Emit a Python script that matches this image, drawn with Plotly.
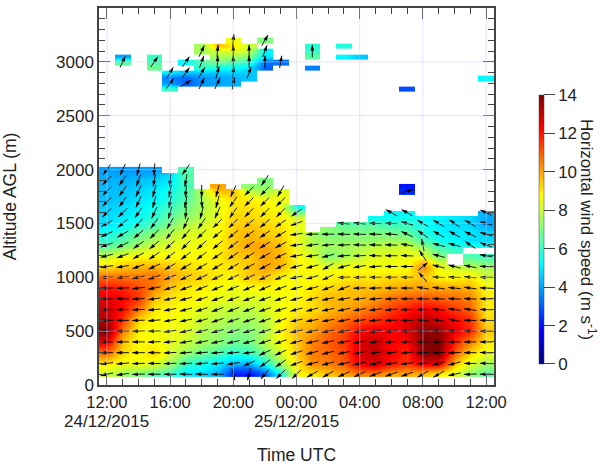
import math
import plotly.graph_objects as go

_ = None
hours = list(range(25))
x_tick_vals = [0, 4, 8, 12, 16, 20, 24]
x_tick_text = ["12:00", "16:00", "20:00", "00:00", "04:00", "08:00", "12:00"]
date_labels = [(0, "24/12/2015"), (12, "25/12/2015")]

low_alt = [2000,1950,1900,1850,1800,1750,1700,1650,1600,1550,1500,1450,1400,1350,1300,1250,1200,1150,1100,1050,
           1000,900,800,700,600,500,400,300,200,150,100]
low_speed = [
[4.0,3.8,3.9,3.9,_,6.3,_,_,_,_,_,_,_,_,_,_,_,_,_,_,_,_,_,_,_],
[4.1,4.0,4.1,4.2,4.8,6.5,_,_,_,_,_,_,_,_,_,_,_,_,_,_,_,_,_,_,_],
[4.2,4.2,4.4,4.6,5.0,6.4,_,_,_,_,7.0,_,_,_,_,_,_,_,_,_,_,_,_,_,_],
[4.3,4.3,4.5,4.8,5.2,6.2,_,10.0,_,7.2,7.2,_,_,_,_,_,_,_,_,2.0,_,_,_,_,_],
[4.4,4.4,4.7,5.0,5.5,6.2,7.9,9.7,9.6,7.8,7.5,8.3,_,_,_,_,_,_,_,2.3,_,_,_,_,_],
[4.4,4.5,4.8,5.1,5.6,6.3,7.7,8.8,9.4,8.7,8.3,8.6,_,_,_,_,_,_,_,_,_,_,_,_,_],
[4.5,4.6,5.0,5.3,5.8,6.5,7.6,8.5,9.0,9.0,8.8,8.5,_,_,_,_,_,_,_,_,_,_,_,_,_],
[4.6,4.8,5.1,5.5,6.1,6.8,7.6,8.4,9.1,9.1,8.9,8.6,5.3,_,_,_,_,_,_,_,_,_,_,_,_],
[4.7,4.9,5.2,5.7,6.4,7.0,7.7,8.5,9.2,9.2,9.0,8.8,7.0,_,_,_,_,_,5.3,5.2,_,_,_,_,4.2],
[4.8,5.0,5.4,5.9,6.7,7.3,7.9,8.5,9.3,9.3,9.1,8.9,8.2,_,_,_,_,5.4,5.4,5.5,5.3,5.2,5.0,4.8,4.1],
[4.9,5.2,5.7,6.2,7.0,7.7,8.1,8.6,9.4,9.5,9.3,9.0,8.5,_,_,6.5,6.5,6.3,6.0,6.0,5.5,5.0,4.8,4.7,4.0],
[5.2,5.6,6.2,6.7,7.4,8.0,8.2,8.7,9.4,9.6,9.4,9.1,8.5,_,7.2,6.8,6.8,6.7,6.5,6.3,5.6,5.1,4.9,4.8,4.4],
[5.5,6.0,6.7,7.2,7.8,8.2,8.4,8.7,9.5,9.7,9.5,9.2,8.5,7.5,7.0,7.0,7.0,7.0,7.0,6.7,5.8,5.2,5.0,5.0,4.7],
[5.9,6.4,7.1,7.6,8.1,8.4,8.5,8.8,9.5,9.8,9.7,9.4,8.6,7.6,7.2,7.2,7.3,7.3,7.4,7.3,6.3,5.5,5.2,4.8,4.7],
[6.3,6.8,7.5,8.0,8.4,8.5,8.6,8.8,9.5,10,10,9.5,8.6,7.7,7.5,7.5,7.5,7.8,7.8,8.0,7.0,6.0,5.5,5.5,5.3],
[7.1,7.6,8.1,8.4,8.6,8.6,8.7,8.9,9.5,9.8,10,9.6,8.6,8.0,7.3,7.5,7.8,8.1,8.1,8.3,7.8,6.5,6.0,_,_],
[8.0,8.5,8.7,8.7,8.7,8.7,8.7,9.0,9.5,9.5,10,9.7,8.7,8.3,7.0,7.5,8.0,8.3,8.4,8.5,8.3,7.0,_,6.3,6.0],
[8.6,9.0,9.2,9.3,9.1,9.0,8.9,9.0,9.3,9.5,10,9.7,8.8,8.5,7.7,8.0,8.3,8.5,8.5,8.6,9.5,7.8,_,7.0,6.7],
[9.2,9.5,9.7,9.8,9.5,9.2,9.0,9.0,9.2,9.5,10,9.7,8.8,8.7,8.3,8.6,8.6,8.6,8.6,8.6,10.5,8.5,8.0,7.8,7.5],
[10,10.1,10.2,10.3,9.8,9.4,9.2,9.0,9.0,9.5,9.8,9.2,8.7,8.7,8.6,8.8,8.8,8.8,8.9,8.9,10,8.7,8.4,8.4,7.9],
[10.8,10.7,10.7,10.7,10,9.5,9.3,9.0,8.8,9.5,9.6,8.7,8.7,8.7,8.8,9.0,9.0,9.0,9.2,9.2,9.6,8.8,8.7,9.0,8.2],
[12,11.8,11.2,10.5,9.5,9.0,8.9,8.7,8.5,8.7,8.8,8.7,8.7,9.0,9.2,9.5,9.6,9.6,9.8,10,10,10,10,9.8,8.8],
[12.6,12.2,11.5,9.5,9.0,8.9,8.7,8.5,8.4,8.3,8.3,8.6,8.8,9.2,9.7,9.7,9.8,10.2,10.8,11,11.3,11,10.8,10.5,9.0],
[13,12,10.5,9.0,8.9,8.6,8.3,8.0,7.9,7.8,8.3,8.6,8.9,9.2,9.7,10,10.5,10.9,11.5,12,12.5,12.2,11.5,11,9.0],
[13.2,11.5,9.2,8.8,8.7,8.4,8.1,7.8,7.6,7.5,7.8,8.7,9.3,9.7,10.2,10.7,11.3,11.6,12,12.5,13.3,12.8,12.2,11.6,9.2],
[14,10.5,8.8,8.6,8.6,8.4,7.7,7.4,7.1,7.1,7.6,8.8,9.7,10,10.8,11.2,12.3,12.5,12.3,12.7,13.8,13.6,12.4,11.7,9.5],
[12.5,9.5,8.8,8.7,8.5,8.0,7.5,7.2,6.8,6.8,7.8,8.7,9.5,10.5,11,11.5,12.7,13,12.2,12.2,13.9,14,11.8,10.5,9.0],
[10.8,9.2,8.8,9.3,8.3,7.3,6.8,6.3,5.8,6.0,7.0,8.2,9.5,10.5,10.8,11.3,12.8,13,12.3,11.8,13.9,13.9,11,9.3,8.5],
[9.0,8.5,8.5,8.3,7.5,6.0,5.5,5.0,4.3,4.2,5.5,7.5,9.0,10.3,10.5,11,12.5,12.8,12,11.5,12.5,12.5,9.5,8.3,7.5],
[8.5,8.0,7.8,7.5,6.8,5.5,5.2,4.6,3.0,3.0,4.2,6.5,8.9,9.7,10,10.5,11.5,11.7,11,10.7,11,10.7,8.9,7.8,7.0],
[8.0,7.5,7.0,6.5,6.0,5.0,4.8,4.2,2.2,2.0,3.0,5.5,8.8,9.0,9.5,10,10.5,10.5,10,10,9.7,9.0,8.3,7.3,6.5],
]

high_alt = [3200,3150,3100,3050,3000,2950,2900,2850,2800,2750]
high_speed = [
[_,_,_,_,_,_,_,_,8.5,_,7.0,_,_,_,_,_,_,_,_,_,_,_,_,_,_],
[_,_,_,_,_,_,7.5,9.7,9.0,8.0,_,_,_,5.8,_,5.7,_,_,_,_,_,_,_,_,_],
[_,_,_,_,_,_,7.5,8.2,8.5,8.0,5.2,_,_,6.0,_,_,_,_,_,_,_,_,_,_,_],
[_,4.0,_,6.0,_,_,_,7.5,7.5,7.0,5.0,_,_,6.5,_,5.2,4.5,_,_,_,_,_,_,_,_],
[_,6.5,_,6.3,_,5.2,6.5,7.0,6.5,6.0,3.5,3.3,_,_,_,_,_,_,_,_,_,_,_,_,_],
[_,_,_,6.8,_,_,6.0,5.5,5.3,5.0,3.0,_,_,3.5,_,_,_,_,_,_,_,_,_,_,_],
[_,_,_,_,5.0,4.5,4.5,4.5,4.7,4.5,_,_,_,_,_,_,_,_,_,_,_,_,_,_,_],
[_,_,_,_,3.5,3.2,3.8,4.0,4.2,4.5,_,_,_,_,_,_,_,_,_,_,_,_,_,_,5.2],
[_,_,_,_,4.0,3.0,3.8,4.0,4.2,_,_,_,_,_,_,_,_,_,_,_,_,_,_,_,_],
[_,_,_,_,6.0,_,_,_,_,_,_,_,_,_,_,_,_,_,_,2.8,_,_,_,_,_],
]

# Bearing the wind blows towards, degrees clockwise from north
arrow_alt = [3200,3100,3000,2900,2800,2000,1900,1800,1700,1600,1500,1400,1300,1200,1100,1000,900,800,700,600,500,400,300,200,100]
bearing = [
[_,_,_,_,_,_,_,_,5,_,30,_,_,_,_,_,_,_,_,_,_,_,_,_,_],
[_,_,_,_,_,_,25,5,0,0,20,_,_,0,_,_,_,_,_,_,_,_,_,_,_],
[_,25,_,35,_,35,20,3,0,0,0,10,_,_,_,_,_,_,_,_,_,_,_,_,_],
[_,_,_,_,30,35,30,15,5,20,_,_,_,_,_,_,_,_,_,_,_,_,_,_,_],
[_,_,_,_,35,60,25,25,10,_,_,_,_,_,_,_,_,_,_,_,_,_,_,_,_],
[215,205,195,185,_,215,_,_,_,_,_,_,_,_,_,_,_,_,_,_,_,_,_,_,_],
[225,215,200,190,185,190,_,_,_,_,215,_,_,_,_,_,_,_,_,_,_,_,_,_,_],
[225,215,205,195,190,185,180,195,205,225,225,210,_,_,_,_,_,_,_,75,_,_,_,_,_],
[225,215,205,195,190,190,175,195,215,225,225,225,_,_,_,_,_,_,_,_,_,_,_,_,_],
[225,225,215,205,195,185,195,205,215,225,225,225,235,_,_,_,_,_,300,300,_,_,_,_,295],
[240,230,220,215,210,205,215,225,225,230,230,235,250,_,_,275,275,272,272,285,300,300,305,300,285],
[245,240,230,225,220,220,225,230,230,235,235,240,262,268,270,272,272,272,275,295,305,300,300,295,285],
[250,245,235,230,228,225,228,230,232,235,238,242,262,262,265,268,272,272,272,280,350,285,285,305,290],
[255,250,240,235,232,232,232,235,235,238,240,245,260,262,255,265,268,272,270,272,327,285,_,_,280],
[262,260,250,245,240,240,240,240,240,242,242,245,255,255,240,255,260,265,270,270,50,285,285,282,272],
[268,265,260,252,248,245,245,245,245,245,245,248,258,255,245,268,268,270,270,270,320,272,272,275,270],
[270,268,263,258,252,250,248,248,248,248,248,250,255,255,250,250,268,268,270,270,280,278,276,278,272],
[272,272,268,262,258,255,252,250,250,250,250,252,255,255,258,260,262,265,268,270,272,272,272,272,270],
[270,270,268,265,260,255,252,250,250,250,252,252,255,255,258,258,260,262,265,268,270,275,278,278,272],
[270,270,268,265,260,258,255,252,252,252,252,252,258,260,260,260,262,265,268,270,278,280,282,272,272],
[272,270,268,268,262,258,255,255,255,255,252,252,258,258,260,262,262,262,265,268,270,272,272,272,270],
[272,270,270,268,265,260,258,258,258,255,252,250,255,258,258,260,260,262,265,268,270,270,270,270,270],
[270,270,270,272,268,265,265,265,265,262,245,245,252,255,256,258,258,260,262,265,268,268,268,270,272],
[262,265,268,270,268,268,265,265,260,245,235,235,250,255,255,258,258,258,262,262,268,255,255,270,272],
[258,262,268,270,270,272,272,270,165,195,220,225,225,240,240,245,245,250,250,250,240,240,258,268,270],
]

PX_PER_HOUR = 395 / 25
PX_PER_M = 377 / 3500
ARROW_PX = 12.5
FONT = "Liberation Sans, Arial, sans-serif"
INK = "#222222"
AXIS = "#444444"
JET = [[0, "#00007f"], [0.125, "#0000ff"], [0.375, "#00ffff"], [0.625, "#ffff00"], [0.875, "#ff0000"], [1, "#7f0000"]]

fig = go.Figure()
for alts, table in ((low_alt, low_speed), (high_alt, high_speed)):
    fig.add_trace(go.Heatmap(x=hours, y=alts[::-1], z=table[::-1], coloraxis="coloraxis",
                             zsmooth="best", hoverongaps=False))

shaft_x, shaft_y, tip_x, tip_y, tip_angle = [], [], [], [], []
for alt, row in zip(arrow_alt, bearing):
    for h, b in zip(hours, row):
        if b is None:
            continue
        dx = ARROW_PX / 2 * math.sin(math.radians(b)) / PX_PER_HOUR
        dy = ARROW_PX / 2 * math.cos(math.radians(b)) / PX_PER_M
        shaft_x += [h - dx, h + dx, None]
        shaft_y += [alt - dy, alt + dy, None]
        tip_x.append(h + dx)
        tip_y.append(alt + dy)
        tip_angle.append(b)

fig.add_trace(go.Scatter(x=shaft_x, y=shaft_y, mode="lines", line=dict(color="black", width=0.9),
                         hoverinfo="skip", showlegend=False))
fig.add_trace(go.Scatter(x=tip_x, y=tip_y, mode="markers", hoverinfo="skip", showlegend=False,
                         marker=dict(symbol="arrow", size=6, angle=tip_angle, color="black",
                                     line=dict(width=0))))

GRID = "rgba(200,200,255,0.4)"
shapes = []
for v in x_tick_vals:
    shapes.append(dict(type="line", xref="x", yref="paper", x0=v, x1=v, y0=0, y1=1,
                       line=dict(color=GRID, width=1.2), layer="above"))
for v in range(500, 3500, 500):
    shapes.append(dict(type="line", xref="paper", yref="y", x0=0, x1=1, y0=v, y1=v,
                       line=dict(color=GRID, width=1.2), layer="above"))

annotations = [dict(x=v, y=0, xref="x", yref="paper", text=t, showarrow=False, yshift=-36,
                    yanchor="middle", xanchor="center", font=dict(family=FONT, size=17, color=INK))
               for v, t in date_labels]
annotations.append(dict(x=(588 - 99) / 395, y=(385 - 229) / 377, xref="paper", yref="paper",
                        text="Horizontal wind speed (m s<sup>-1</sup>)", textangle=90, showarrow=False,
                        xanchor="center", yanchor="middle", font=dict(family=FONT, size=17, color=INK)))

fig.update_layout(
    width=600, height=465, margin=dict(l=99, r=106, t=8, b=80, autoexpand=False),
    paper_bgcolor="white", plot_bgcolor="white", showlegend=False,
    font=dict(family=FONT, size=16, color=INK),
    shapes=shapes, annotations=annotations,
    coloraxis=dict(
        colorscale=JET, cmin=0, cmax=14,
        colorbar=dict(
            thickness=5, lenmode="pixels", len=269, x=1.114, xanchor="left", xpad=0, ypad=0,
            y=0.4125, yanchor="middle", outlinewidth=0.5, outlinecolor=AXIS,
            tickmode="array", tickvals=list(range(0, 15, 2)), ticks="outside", ticklen=11,
            tickwidth=1, tickcolor=AXIS, tickfont=dict(family=FONT, size=17, color=INK),
            tickprefix="\u00a0",
        ),
    ),
)
fig.update_xaxes(
    range=[-0.5, 24.5], tickmode="array", tickvals=x_tick_vals, ticktext=x_tick_text,
    ticks="inside", ticklen=11, tickwidth=1.2, tickcolor=AXIS, showgrid=False, zeroline=False,
    showline=True, linecolor=AXIS, linewidth=1.5, mirror="ticks", ticklabelstandoff=1,
    tickfont=dict(family=FONT, size=16.5, color=INK),
    minor=dict(tickmode="array", tickvals=hours, ticks="inside", ticklen=6, tickwidth=1, tickcolor=AXIS),
    title=dict(text="Time UTC", standoff=46, font=dict(family=FONT, size=17.5, color=INK)),
)
fig.update_yaxes(
    range=[0, 3500], tickmode="array", tickvals=list(range(0, 3501, 500)),
    ticks="inside", ticklen=11, tickwidth=1.2, tickcolor=AXIS, showgrid=False, zeroline=False,
    showline=True, linecolor=AXIS, linewidth=1.5, mirror="ticks",
    tickfont=dict(family=FONT, size=17, color=INK),
    minor=dict(tickmode="array", tickvals=list(range(0, 3501, 100)), ticks="inside", ticklen=6,
               tickwidth=1, tickcolor=AXIS),
    title=dict(text="Altitude AGL (m)", standoff=37, font=dict(family=FONT, size=17.5, color=INK)),
)
fig.write_html("out.html", config=dict(displayModeBar=False), post_script="document.body.style.margin='0';")
